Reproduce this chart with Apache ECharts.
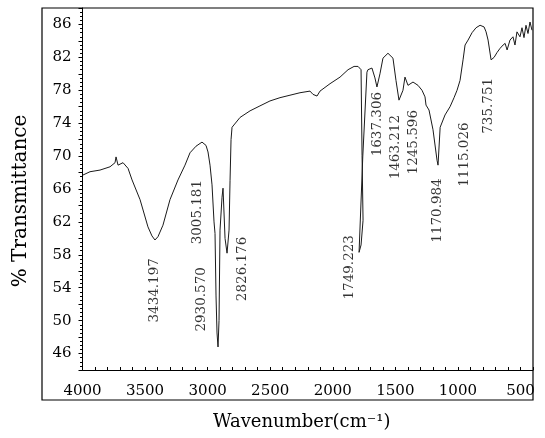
<!DOCTYPE html>
<html><head><meta charset="utf-8">
<script src="https://cdn.jsdelivr.net/npm/echarts@6/dist/echarts.min.js"></script>
<style>html,body{margin:0;padding:0;background:#fff}#c{width:545px;height:438px}</style>
</head><body><div id="c"></div>
<script>
// Spectrum (wavenumber cm-1, % transmittance)
const wavenumber = [3996,3940,3860,3780,3740,3732,3716,3676,3636,3604,3540,3477,3445,3421,3397,3357,3301,3237,3181,3141,3093,3045,3013,2997,2981,2965,2949,2941,2933,2925,2917,2909,2901,2885,2877,2861,2845,2837,2829,2821,2813,2805,2741,2661,2582,2502,2422,2342,2262,2182,2158,2126,2102,2022,1942,1878,1830,1798,1774,1766,1758,1774,1790,1760,1727,1719,1687,1663,1647,1623,1599,1559,1519,1495,1471,1439,1423,1399,1359,1319,1287,1263,1255,1231,1199,1167,1159,1142,1103,1063,1031,1007,983,959,943,919,887,855,823,791,775,759,735,711,687,663,639,623,607,584,560,544,528,504,488,472,456,440,424,408];
const transmittance = [67.7,68.1,68.3,68.7,69.2,69.9,68.9,69.2,68.5,67.1,64.7,61.4,60.3,59.8,60.2,61.6,64.7,67.1,68.9,70.4,71.2,71.7,71.3,70.5,68.9,66.5,62.0,60.6,53.0,48.5,46.8,50.0,61.0,65.0,66.1,60.0,58.2,58.0,61.0,67.0,72.0,73.5,74.7,75.5,76.1,76.7,77.1,77.4,77.7,77.9,77.5,77.3,77.9,78.8,79.6,80.5,80.9,80.9,80.5,70.1,62.2,59.2,58.3,70.0,80.2,80.5,80.7,79.5,78.4,80.0,81.9,82.5,81.9,79.2,76.8,78.0,79.6,78.6,79.0,78.6,78.0,77.2,76.2,75.6,73.2,69.5,68.9,73.5,75.0,76.0,77.1,78.0,79.2,81.7,83.5,84.1,85.0,85.6,85.9,85.7,85.1,84.1,81.7,82.0,82.6,83.1,83.5,83.7,82.9,84.1,84.5,83.5,85.1,84.5,85.6,84.4,85.9,84.9,86.3,85.3];

// Peak annotations: text, and where the top end of each rotated label sits
const peakLabels = ['3434.197','3005.181','2930.570','2826.176','1749.223','1637.306','1463.212','1245.596','1170.984','1115.026','735.751'];
const peakLabelX = [3421,3081,3053,2721,1870,1643,1495,1351,1163,951,752];
const peakLabelY = [57.6,67.1,56.5,60.2,60.4,77.8,75.0,75.6,67.3,74.1,79.5];

const xTickValues = [4000,3500,3000,2500,2000,1500,1000,500];
const yTickValues = [86,82,78,74,70,66,62,58,54,50,46];

const spectrum = wavenumber.map((w, i) => [w, transmittance[i]]);
const peaks = peakLabels.map((t, i) => ({ name: t, value: [peakLabelX[i], peakLabelY[i]] }));

const FONT = 'DejaVu Serif';
const chart = echarts.init(document.getElementById('c'), null, { renderer: 'canvas' });
chart.setOption({
  animation: false,
  backgroundColor: '#fff',
  grid: { left: 82.5, right: 12, top: 8, bottom: 68 },
  xAxis: {
    type: 'value', inverse: true, min: 400, max: 4000, interval: 100,
    name: 'Wavenumber(cm\u207B\u00B9)', nameLocation: 'middle', nameGap: 43,
    nameTextStyle: { fontFamily: FONT, fontSize: 18, color: '#000', padding: [0, 12, 0, 0] },
    axisLine: { show: true, lineStyle: { color: '#000', width: 1 } },
    axisTick: { show: true, inside: true, length: 3, lineStyle: { color: '#000' } },
    axisLabel: { fontFamily: FONT, fontSize: 15, color: '#000', margin: 14,
      formatter: v => xTickValues.includes(v) ? String(v) : '' },
    splitLine: { show: false }
  },
  yAxis: {
    type: 'value', min: 44, max: 88, interval: 2,
    name: '% Transmittance', nameLocation: 'middle', nameGap: 52, nameRotate: 90,
    nameTextStyle: { fontFamily: FONT, fontSize: 20, color: '#000', padding: [0, 24, 0, 0] },
    axisLine: { show: true, lineStyle: { color: '#000', width: 1 } },
    axisTick: { show: true, inside: false, length: 4, lineStyle: { color: '#000' } },
    minorTick: { show: true, splitNumber: 4, length: 2.5, lineStyle: { color: '#000' } },
    axisLabel: { fontFamily: FONT, fontSize: 15, color: '#000', margin: 11,
      formatter: v => yTickValues.includes(v) ? String(v) : '' },
    splitLine: { show: false }
  },
  graphic: [{
    type: 'rect', z: 0, silent: true,
    shape: { x: 42, y: 8, width: 491, height: 392 },
    style: { fill: 'none', stroke: '#000', lineWidth: 1.2 }
  }],
  series: [{
    type: 'line', data: spectrum, showSymbol: false, smooth: false,
    lineStyle: { color: '#1a1a1a', width: 1 }, clip: true
  }, {
    type: 'scatter', data: peaks, symbolSize: 0, silent: true,
    label: { show: true, formatter: '{b}', rotate: 90, position: 'inside',
      align: 'right', verticalAlign: 'middle',
      fontFamily: FONT, fontSize: 13.5, color: '#000' }
  }]
});
</script>
</body></html>
